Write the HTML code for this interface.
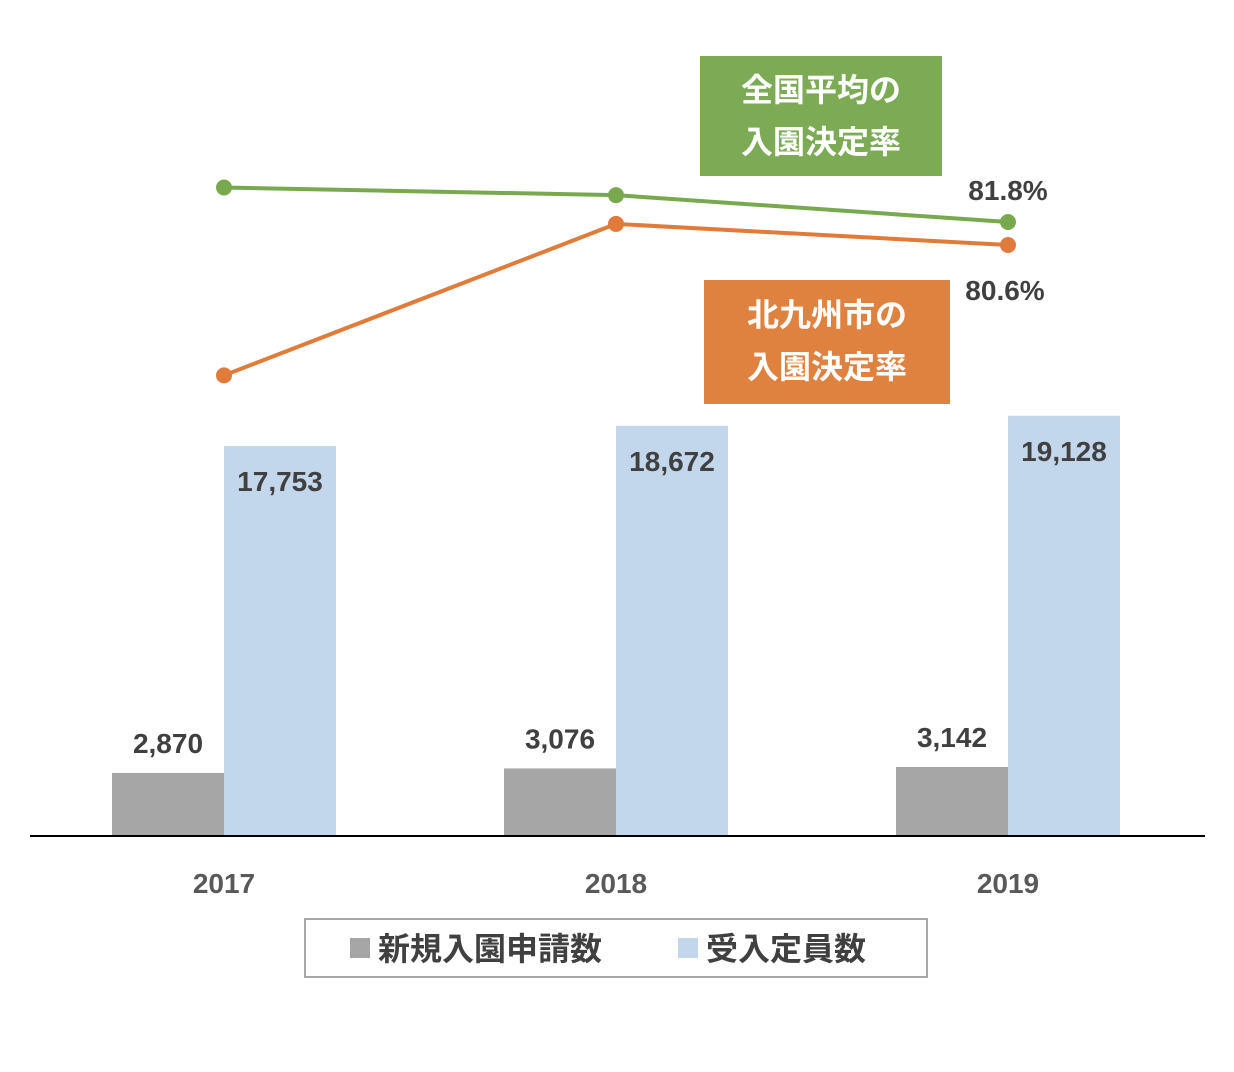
<!DOCTYPE html>
<html><head><meta charset="utf-8">
<style>
body{margin:0;background:#fff;}
svg{display:block;font-family:"Liberation Sans","Noto Sans CJK JP",sans-serif;}
</style></head>
<body>
<svg id="chart" width="1234" height="1072" viewBox="0 0 1234 1072" xmlns="http://www.w3.org/2000/svg">
<g id="bars"></g>
<g id="lines"></g>
<line x1="30" y1="836" x2="1205" y2="836" stroke="#000" stroke-width="2"/>
<g id="xlabels"></g>
<g>
<rect x="700" y="56" width="242" height="120" fill="#7dab55"/>
<text x="821" y="101" text-anchor="middle" fill="#fff" font-size="32" font-weight="bold">全国平均の</text>
<text x="821" y="153" text-anchor="middle" fill="#fff" font-size="32" font-weight="bold">入園決定率</text>
</g>
<g>
<rect x="704" y="280" width="246" height="124" fill="#e0823f"/>
<text x="827" y="326" text-anchor="middle" fill="#fff" font-size="32" font-weight="bold">北九州市の</text>
<text x="827" y="378" text-anchor="middle" fill="#fff" font-size="32" font-weight="bold">入園決定率</text>
</g>
<g>
<rect x="305" y="919" width="622" height="58" fill="#fff" stroke="#a6a6a6" stroke-width="2"/>
<rect x="350" y="938" width="20" height="20" fill="#a6a6a6"/>
<text x="378" y="960" font-size="32" font-weight="bold" fill="#404040">新規入園申請数</text>
<rect x="678" y="938" width="20" height="20" fill="#c3d7ec"/>
<text x="706" y="960" font-size="32" font-weight="bold" fill="#404040">受入定員数</text>
</g>
</svg>
<script>
const categories=["2017","2018","2019"];
const applications=[2870,3076,3142];
const capacity=[17753,18672,19128];
const nationalRate=[83.6,83.2,81.8];
const cityRate=[73.8,81.7,80.6];
const ns="http://www.w3.org/2000/svg";
const baseY=836;
function xc(i){return 224+i*392;}
function yb(v){return baseY-v*390/17753;}
function yr(v){return 222-(v-81.8)*19.17;}
function mk(tag,attrs,parent){const e=document.createElementNS(ns,tag);for(const k in attrs)e.setAttribute(k,attrs[k]);parent.appendChild(e);return e;}
const bars=document.getElementById('bars'),lines=document.getElementById('lines'),xl=document.getElementById('xlabels');
const fmt=v=>v.toLocaleString('en-US');
categories.forEach((c,i)=>{
  const x=xc(i);
  let r=mk('rect',{x:x-112,y:yb(applications[i]),width:112,height:baseY-yb(applications[i]),fill:'#a6a6a6'},bars);
  
  
  let t=mk('text',{x:x-56,y:yb(applications[i])-20,'text-anchor':'middle','font-size':28,'font-weight':'bold',fill:'#404040'},bars);
  t.textContent=fmt(applications[i]);
  
  
  r=mk('rect',{x:x,y:yb(capacity[i]),width:112,height:baseY-yb(capacity[i]),fill:'#c3d7ec'},bars);
  
  
  t=mk('text',{x:x+56,y:yb(capacity[i])+45,'text-anchor':'middle','font-size':28,'font-weight':'bold',fill:'#404040'},bars);
  t.textContent=fmt(capacity[i]);
  
  
  t=mk('text',{x:x,y:893,'text-anchor':'middle','font-size':28,'font-weight':'bold',fill:'#595959'},xl);
  t.textContent=c;
  
  
});
function series(vals,color,name){
  const p=mk('polyline',{points:vals.map((v,i)=>xc(i)+','+yr(v)).join(' '),fill:'none',stroke:color,'stroke-width':4},lines);
  
  
  vals.forEach((v,i)=>{
    const c=mk('circle',{cx:xc(i),cy:yr(v),r:8,fill:color},lines);
    
    
  });
}
series(nationalRate,'#78a94f','national-rate');
series(cityRate,'#e07b39','city-rate');
const last=categories.length-1;
let t=mk('text',{x:xc(last),y:yr(nationalRate[last])-22,'text-anchor':'middle','font-size':28,'font-weight':'bold',fill:'#404040'},lines);
t.textContent=nationalRate[last].toFixed(1)+'%';


t=mk('text',{x:xc(last)-3,y:yr(cityRate[last])+55,'text-anchor':'middle','font-size':28,'font-weight':'bold',fill:'#404040'},lines);
t.textContent=cityRate[last].toFixed(1)+'%';


</script>
</body></html>
